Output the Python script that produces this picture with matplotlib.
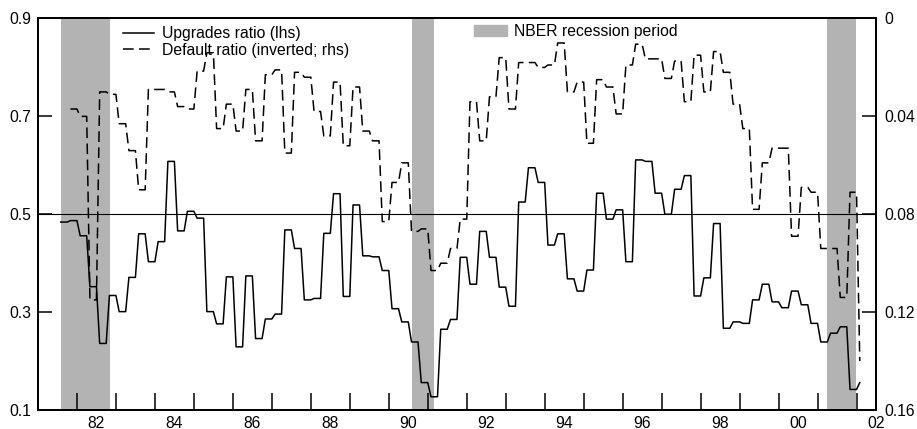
import numpy as np
import matplotlib.pyplot as plt
from matplotlib.lines import Line2D
from matplotlib.patches import Patch

plt.rcParams['font.family'] = ['Liberation Sans', 'DejaVu Sans']
plt.rcParams['font.size'] = 11.3

# Quartalswerte, jeweils drei Monate lang gehalten (Start Aug 1981)
upgrades_q = [0.484, 0.487, 0.456, 0.352, 0.236, 0.334, 0.301, 0.371, 0.460, 0.403,
              0.444, 0.608, 0.466, 0.506, 0.492, 0.301, 0.276, 0.372, 0.229, 0.374,
              0.246, 0.286, 0.296, 0.468, 0.430, 0.325, 0.328, 0.461, 0.542, 0.332,
              0.519, 0.415, 0.413, 0.385, 0.307, 0.280, 0.239, 0.156, 0.127, 0.265,
              0.285, 0.412, 0.357, 0.465, 0.412, 0.351, 0.312, 0.525, 0.595, 0.565,
              0.437, 0.460, 0.368, 0.343, 0.386, 0.543, 0.490, 0.509, 0.403, 0.611,
              0.608, 0.543, 0.500, 0.551, 0.579, 0.333, 0.370, 0.481, 0.267, 0.280,
              0.277, 0.325, 0.357, 0.321, 0.309, 0.343, 0.315, 0.277, 0.239, 0.257,
              0.270, 0.142, 0.156]

# Default ratio (rechte Achse, invertiert), Start Nov 1981
default_q = [0.037, 0.040, 0.115, 0.030, 0.031, 0.043, 0.054, 0.070, 0.029, 0.029,
             0.030, 0.036, 0.037, 0.0215, 0.014, 0.045, 0.035, 0.046, 0.029, 0.050,
             0.023, 0.021, 0.055, 0.022, 0.024, 0.038, 0.048, 0.026, 0.052, 0.028,
             0.046, 0.050, 0.083, 0.067, 0.059, 0.087, 0.086, 0.103, 0.100, 0.094,
             0.082, 0.034, 0.050, 0.032, 0.016, 0.037, 0.018, 0.018, 0.020, 0.019,
             0.010, 0.030, 0.026, 0.051, 0.025, 0.028, 0.039, 0.019, 0.0105, 0.0165,
             0.0165, 0.0245, 0.0174, 0.034, 0.015, 0.030, 0.0135, 0.022, 0.035, 0.045,
             0.078, 0.059, 0.053, 0.053, 0.089, 0.069, 0.071, 0.094, 0.094, 0.114,
             0.071, 0.140]

# NBER Rezessionen (Dezimaljahre)
recessions = [(1981.59, 1982.85), (1990.60, 1991.16), (2001.24, 2001.99)]

n_months = 247
months = 1981 + (7 + np.arange(n_months)) / 12
upgrades_m = np.repeat(upgrades_q, 3)[:n_months]
default_m = np.repeat(default_q, 3)[:n_months - 3]

grey = '#b3b3b3'
dash = (7, 3.5)

fig = plt.figure(figsize=(9.17, 4.29), dpi=100)
ax = fig.add_axes([0.0414, 0.0443, 0.9139, 0.9126])
ax2 = ax.twinx()

for a, b in recessions:
    ax.axvspan(a, b, color=grey, lw=0, zorder=0)
ax.axhline(0.5, color='black', lw=0.8, zorder=1)
ax.plot(months, upgrades_m, color='black', lw=1.1, zorder=3)
ax2.plot(months[3:], default_m, color='black', lw=1.1, dashes=dash)

# Achsen
ax.set_xlim(1981, 2002.5)
ax.set_ylim(0.1, 0.9)
ax2.set_ylim(0.16, 0)

ax.set_yticks([0.1, 0.3, 0.5, 0.7, 0.9])
ax.set_yticklabels(['0.1', '0.3', '0.5', '0.7', '0.9'])
ax2.set_yticks([0, 0.04, 0.08, 0.12, 0.16])
ax2.set_yticklabels(['0', '0.04', '0.08', '0.12', '0.16'])

ax.set_xticks(np.arange(1982, 2003))
ax.set_xticklabels([])
ax.set_xticks(np.arange(1982.5, 2003, 2), minor=True)
ax.set_xticklabels(['82', '84', '86', '88', '90', '92', '94', '96', '98', '00', '02'], minor=True)

ax.tick_params(axis='x', which='major', direction='in', length=12, width=1.1)
ax.tick_params(axis='x', which='minor', length=0, pad=4)
ax.tick_params(axis='y', direction='in', length=10, width=1.1, pad=5)
ax2.tick_params(axis='y', direction='in', length=10, width=1.1, pad=6)

for a in (ax, ax2):
    for s in a.spines.values():
        s.set_linewidth(1.4)

# Legenden
h1 = Line2D([], [], color='black', lw=1.1)
h2 = Line2D([], [], color='black', lw=1.1, dashes=dash)
leg1 = ax2.legend([h1, h2], ['Upgrades ratio (lhs)', 'Default ratio (inverted; rhs)'],
                  loc='upper left', bbox_to_anchor=(0.1014, 0.98), frameon=False,
                  handlelength=2.0, handletextpad=0.5, borderpad=0, borderaxespad=0,
                  labelspacing=0.1)
ax2.add_artist(leg1)
ax2.legend([Patch(color=grey)], ['NBER recession period'], loc='upper left',
           bbox_to_anchor=(0.520, 0.985), frameon=False, handlelength=2.15,
           handleheight=0.7, handletextpad=0.4, borderpad=0, borderaxespad=0)

fig.savefig('out.png', dpi=100)
